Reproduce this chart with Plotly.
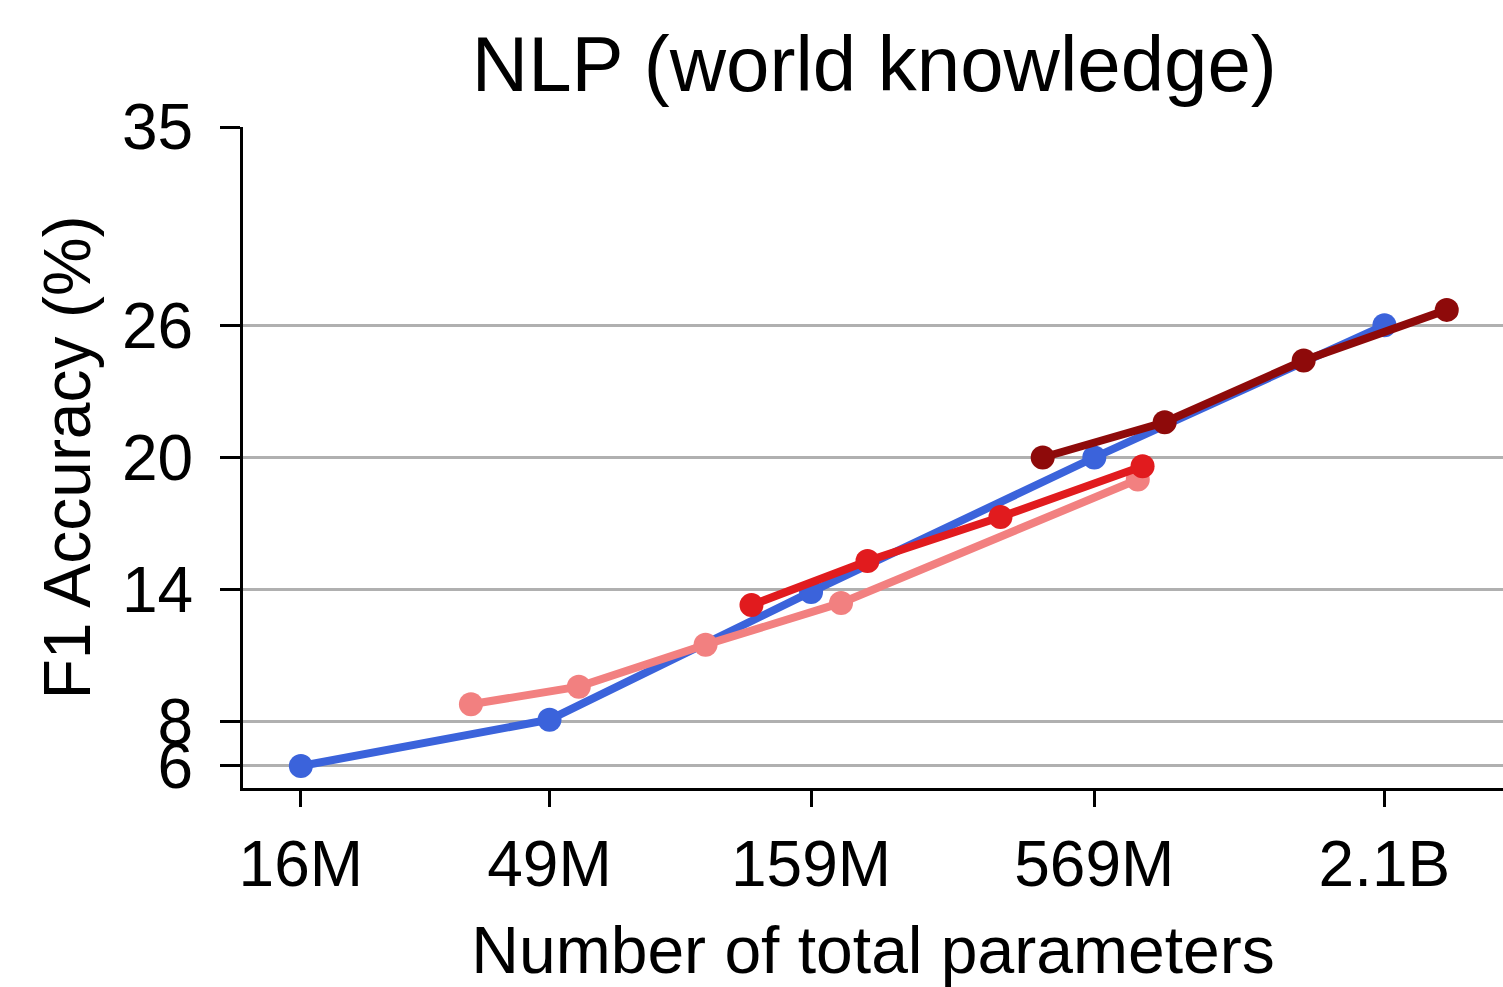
import plotly.graph_objects as go

# Model sizes (total parameters) and F1 accuracy (%) per model family
blue_params = [16e6, 49e6, 159e6, 569e6, 2.1e9]
blue_f1 = [6.0, 8.1, 13.9, 20.0, 26.0]

pink_params = [34.4e6, 55.9e6, 98.9e6, 182e6, 692e6]
pink_f1 = [8.8, 9.6, 11.5, 13.4, 19.0]

red_params = [121.6e6, 205e6, 373e6, 707e6]
red_f1 = [13.3, 15.3, 17.3, 19.6]

darkred_params = [451e6, 781e6, 1.46e9, 2.78e9]
darkred_f1 = [20.0, 21.6, 24.4, 26.7]

x_tickvals = [16e6, 49e6, 159e6, 569e6, 2.1e9]
x_ticktext = ["16M", "49M", "159M", "569M", "2.1B"]
y_tickvals = [6, 8, 14, 20, 26, 35]

FONT = "Liberation Sans, Arial, sans-serif"

series = [
    (blue_params, blue_f1, "#3B63DB"),
    (pink_params, pink_f1, "#F28080"),
    (red_params, red_f1, "#E11B1E"),
    (darkred_params, darkred_f1, "#8E0A0A"),
]

fig = go.Figure()
for xs, ys, color in series:
    fig.add_trace(go.Scatter(
        x=xs, y=ys, mode="lines+markers",
        line=dict(color=color, width=8),
        marker=dict(color=color, size=24),
        showlegend=False,
        cliponaxis=False,
    ))

fig.update_layout(
    width=1503, height=987,
    margin=dict(l=243, r=0, t=127, b=199),
    paper_bgcolor="white", plot_bgcolor="white",
    font=dict(family=FONT, color="black"),
    title=dict(text="NLP (world knowledge)", x=0.5817, xanchor="center",
               y=0.935, yanchor="middle",
               font=dict(size=78, family=FONT, color="black")),
)

fig.update_xaxes(
    type="log", range=[7.091, 9.554],
    tickvals=x_tickvals, ticktext=x_ticktext,
    tickfont=dict(size=64, family=FONT),
    ticks="outside", ticklen=16, tickwidth=3, tickcolor="black",
    ticklabelstandoff=2,
    showline=True, linecolor="black", linewidth=3,
    showgrid=False, zeroline=False,
    title=dict(text="Number of total parameters", standoff=40,
               font=dict(size=66, family=FONT)),
)

fig.update_yaxes(
    range=[5, 35],
    tickvals=y_tickvals,
    tickfont=dict(size=64, family=FONT),
    ticks="outside", ticklen=20, tickwidth=3, tickcolor="black",
    ticklabelstandoff=14,
    showline=True, linecolor="black", linewidth=3,
    showgrid=True, gridcolor="#B0B0B0", gridwidth=3,
    zeroline=False,
    title=dict(text="F1 Accuracy (%)", standoff=10,
               font=dict(size=66, family=FONT)),
)

fig.write_html("out.html")
